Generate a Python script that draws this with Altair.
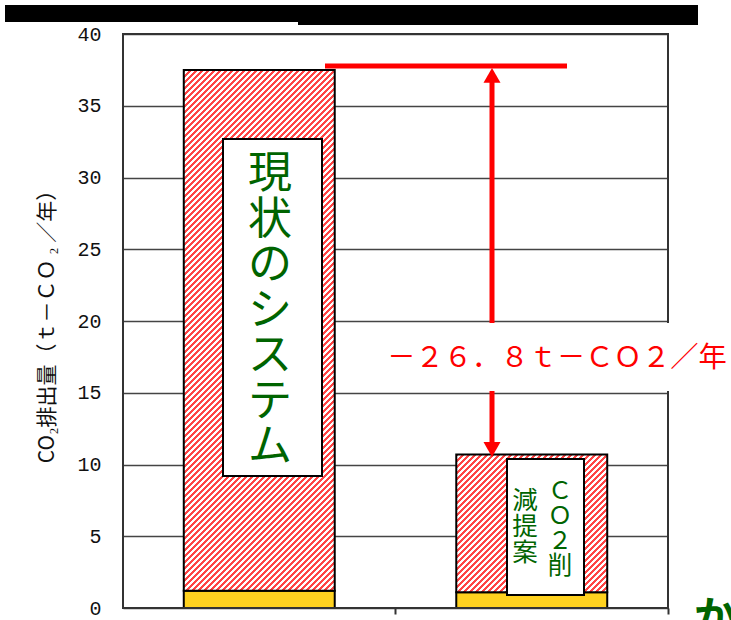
import altair as alt
import pandas as pd

# ---------------- data ----------------
categories = ["現状のシステム", "CO2削減提案"]
base_values = [1.2, 1.1]          # yellow bottom part
total_values = [37.5, 10.7]       # top of each bar
y_ticks = [0, 5, 10, 15, 20, 25, 30, 35, 40]
y_title = "CO₂排出量（ｔ－ＣＯ ₂ ／年）"
reduction_label = "－２６．８ｔ－ＣＯ２／年"
box1_lines = ["現", "状", "の", "シ", "ス", "テ", "ム"]
box2_right = ["Ｃ", "Ｏ", "２", "削"]
box2_left = ["減", "提", "案"]
corner_text = "か"

# ---------------- layout / style ----------------
PLOT_W, PLOT_H = 545, 574
Y_MAX = 40
PX = PLOT_H / Y_MAX
BAR_W = 151
P_IN, P_OUT = 0.446, 0.223
GREEN = "#006400"
RED = "#ff0000"
JP = "Noto Sans CJK JP"

df = pd.DataFrame({"cat": categories, "base": base_values,
                   "total": total_values, "zero": [0, 0]})
one = pd.DataFrame({"k": [0]})


def hatch(W, H, period=6.0, line=2.5, c1="#ff4545", c2="#ffffff"):
    D = W * W + H * H
    s = max(1.0, (W + H) * W / D) * 1.02
    k = W / (s * D)
    stops = []
    p = 0.0
    while p < W + H:
        for off, c in ((p, c1), (p + line, c1), (p + line, c2), (p + period, c2)):
            stops.append({"offset": min(1.0, off * k), "color": c})
        p += period
    return {"gradient": "linear", "x1": 0, "y1": 0, "x2": s, "y2": s * H / W,
            "stops": stops}


x_enc = alt.X("cat:N",
              scale=alt.Scale(domain=categories, paddingInner=P_IN, paddingOuter=P_OUT),
              axis=alt.Axis(title=None, labels=False, domain=False, grid=False,
                            ticks=True, tickSize=6, tickWidth=2, tickColor="#333",
                            bandPosition=(1 - P_OUT) / (1 - P_IN)))


def y_enc(field):
    return alt.Y(field,
                 scale=alt.Scale(domain=[0, Y_MAX], nice=False, zero=True),
                 axis=alt.Axis(values=y_ticks, title=y_title, grid=True,
                               gridColor="#444", gridWidth=1.5, ticks=False,
                               domain=False, labelFont="Liberation Mono",
                               labelFontSize=20, labelColor="#111",
                               labelPadding=22, labelFlush=False,
                               labelOverlap=False,
                               titleFont=JP, titleFontSize=21,
                               titleFontWeight="normal", titleColor="#111",
                               titleAngle=270, titleX=-76, titleY=PLOT_H / 2,
                               titleAlign="center", titleBaseline="middle"))


base_layer = alt.Chart(df).mark_bar(color="#ffd21f", stroke="black", strokeWidth=2).encode(
    x=x_enc, y=y_enc("zero:Q"), y2="base:Q")

hatched = []
for cat, b, t in zip(categories, base_values, total_values):
    H = (t - b) * PX
    hatched.append(
        alt.Chart(df).transform_filter(alt.datum.cat == cat)
        .mark_bar(fill=hatch(BAR_W, H), stroke="black", strokeWidth=2)
        .encode(x=x_enc, y=y_enc("total:Q"), y2="base:Q")
    )

frame = alt.Chart(one).mark_rect(fillOpacity=0, stroke="#333", strokeWidth=2).encode(
    x=alt.value(0), x2=alt.value(PLOT_W), y=alt.value(0), y2=alt.value(PLOT_H))

ann = pd.DataFrame({"top": [total_values[0]], "bottom": [total_values[1]]})
yscale = alt.Scale(domain=[0, Y_MAX], nice=False, zero=True)

hline = alt.Chart(ann).mark_rule(color=RED, strokeWidth=5, yOffset=-4).encode(
    x=alt.value(202), x2=alt.value(444), y=alt.Y("top:Q", scale=yscale))
shaft = alt.Chart(ann).mark_rule(color=RED, strokeWidth=5, yOffset=10, y2Offset=-8).encode(
    x=alt.value(369), y=alt.Y("top:Q", scale=yscale), y2="bottom:Q")
head_up = alt.Chart(ann).mark_point(shape="M-1,0.88L1,0.88L0,-0.88Z", size=289, filled=True,
                                    opacity=1, color=RED, yOffset=5.5).encode(
    x=alt.value(369), y=alt.Y("top:Q", scale=yscale))
head_dn = alt.Chart(ann).mark_point(shape="M-1,-0.88L1,-0.88L0,0.88Z", size=289, filled=True,
                                    opacity=1, color=RED, yOffset=-5).encode(
    x=alt.value(369), y=alt.Y("bottom:Q", scale=yscale))

white_box = alt.Chart(one).mark_rect(fill="white").encode(
    x=alt.value(232), x2=alt.value(608), y=alt.value(289), y2=alt.value(357))
red_text = alt.Chart(one).mark_text(text=reduction_label, font=JP, fontSize=28.3, color=RED,
                                    align="center", baseline="middle").encode(
    x=alt.value(434), y=alt.value(325))

box1 = alt.Chart(one).mark_rect(fill="white", stroke="black", strokeWidth=2).encode(
    x=alt.value(100), x2=alt.value(199), y=alt.value(105), y2=alt.value(442))
text1 = alt.Chart(one).mark_text(text=box1_lines, font=JP, fontSize=44, lineHeight=45.5,
                                 color=GREEN, align="center", baseline="top").encode(
    x=alt.value(147), y=alt.value(119))

box2 = alt.Chart(one).mark_rect(fill="white", stroke="black", strokeWidth=2).encode(
    x=alt.value(384), x2=alt.value(461), y=alt.value(425), y2=alt.value(561))
text2r = alt.Chart(one).mark_text(text=box2_right, font=JP, fontSize=24.5, lineHeight=25,
                                  color=GREEN, align="center", baseline="top").encode(
    x=alt.value(437), y=alt.value(446))
text2l = alt.Chart(one).mark_text(text=box2_left, font=JP, fontSize=25.5, lineHeight=26,
                                  color=GREEN, align="center", baseline="top").encode(
    x=alt.value(402), y=alt.value(455))

corner = alt.Chart(one).mark_text(text=corner_text, font=JP, fontSize=42, fontWeight="bold",
                                  color=GREEN, align="left", baseline="top").encode(
    x=alt.value(571), y=alt.value(565))

band1 = alt.Chart(one).mark_rect(fill="black").encode(
    x=alt.value(-118), x2=alt.value(575), y=alt.value(-29), y2=alt.value(-12))
band2 = alt.Chart(one).mark_rect(fill="black").encode(
    x=alt.value(175), x2=alt.value(575), y=alt.value(-29), y2=alt.value(-9))

chart = alt.layer(
    base_layer, *hatched, frame, hline, shaft, head_up, head_dn,
    white_box, red_text, box1, text1, box2, text2r, text2l, corner, band1, band2
).properties(
    width=PLOT_W, height=PLOT_H,
    autosize=alt.AutoSizeParams(type="none"),
    padding={"left": 123, "top": 34, "right": 63, "bottom": 12},
    background="white",
).configure_view(stroke="transparent")

chart.save("out.html", embed_options={"renderer": "svg", "actions": False})
